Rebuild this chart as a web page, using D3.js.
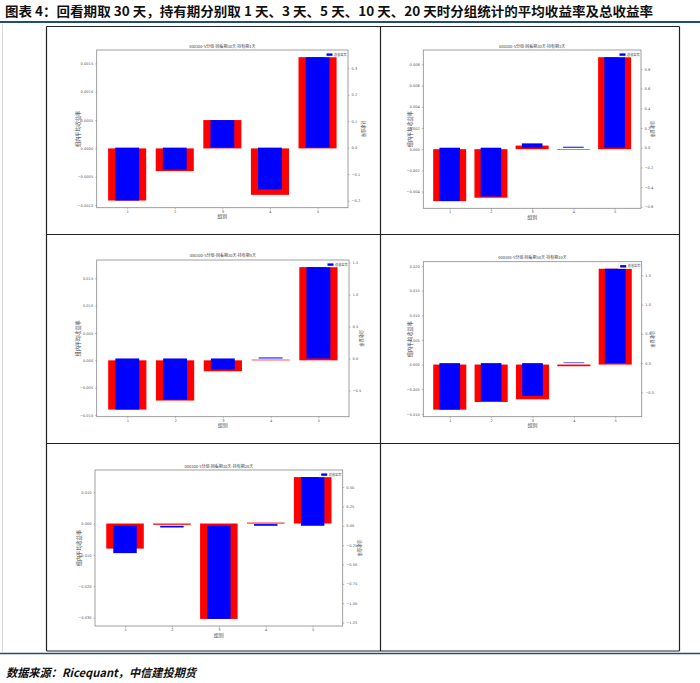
<!DOCTYPE html>
<html><head><meta charset="utf-8">
<script src="https://cdn.jsdelivr.net/npm/d3@7"></script>
<style>body{margin:0;background:#fff}svg{display:block}</style>
</head><body><svg id="c" width="700" height="683"></svg>
<script>
// ---------------- data ----------------
const groups = [1, 2, 3, 4, 5];
const holdingDays = [1, 3, 5, 10, 20];
const lookbackDays = 30;

const meanRet_1d  = [-0.00092, -0.00040, 0.00050, -0.00082, 0.00161];
const totalRet_1d = [-0.200, -0.083, 0.104, -0.158, 0.342];
const meanRet_3d  = [-0.00490, -0.00458, 0.00034, -0.00004, 0.00868];
const totalRet_3d = [-0.542, -0.495, 0.044, 0.010, 0.919];
const meanRet_5d  = [-0.00900, -0.00735, -0.00200, 0.00012, 0.01703];
const totalRet_5d = [-0.800, -0.645, -0.173, 0.016, 1.430];
const meanRet_10d  = [-0.00915, -0.00760, -0.00705, -0.00034, 0.01944];
const totalRet_10d = [-0.794, -0.646, -0.560, 0.011, 1.611];
const meanRet_20d  = [-0.00800, -0.00040, -0.03040, 0.00030, 0.01480];
const totalRet_20d = [-0.353, -0.022, -1.203, 0.022, 0.629];

const leftTicks_1d  = [-0.0010, -0.0005, 0.0000, 0.0005, 0.0010, 0.0015];
const rightTicks_1d = [-0.2, -0.1, 0.0, 0.1, 0.2, 0.3];
const leftTicks_3d  = [-0.004, -0.002, 0.000, 0.002, 0.004, 0.006, 0.008];
const rightTicks_3d = [-0.6, -0.4, -0.2, 0.0, 0.2, 0.4, 0.6, 0.8];
const leftTicks_5d  = [-0.010, -0.005, 0.000, 0.005, 0.010, 0.015];
const rightTicks_5d = [-0.5, 0.0, 0.5, 1.0, 1.5];
const leftTicks_10d  = [-0.010, -0.005, 0.000, 0.005, 0.010, 0.015, 0.020];
const rightTicks_10d = [-0.5, 0.0, 0.5, 1.0, 1.5];
const leftTicks_20d  = [-0.03, -0.02, -0.01, 0.00, 0.01];
const rightTicks_20d = [-1.25, -1.00, -0.75, -0.50, -0.25, 0.00, 0.25, 0.50];

const leftFormats  = [".4f", ".3f", ".3f", ".3f", ".3f"];
const rightFormats = [".1f", ".1f", ".1f", ".1f", ".2f"];

const chartTitle = "图表 4：回看期取 30 天，持有期分别取 1 天、3 天、5 天、10 天、20 天时分组统计的平均收益率及总收益率";
const sourceText = "数据来源：Ricequant，中信建投期货";
const xLabel = "组别";
const leftLabel = "组内平均收益率";
const rightLabel = "总收益率";
const legendLabel = "总收益率";

// ---------------- layout ----------------
const svg = d3.select("#c");
const W = 700, H = 683;

// faint page edges
svg.append("line").attr("x1", 2.5).attr("x2", 2.5).attr("y1", 24).attr("y2", 652)
  .attr("stroke", "#d8d8d8").attr("stroke-width", 1);

// page title
svg.append("text").attr("x", 5).attr("y", 15.5)
  .attr("font-family", "'Noto Sans CJK SC', sans-serif").attr("font-weight", 700)
  .attr("font-size", 13).attr("textLength", 648).attr("lengthAdjust", "spacingAndGlyphs")
  .attr("fill", "#111").text(chartTitle);

// blue rules
svg.append("line").attr("x1", 0).attr("x2", W).attr("y1", 22).attr("y2", 22)
  .attr("stroke", "#1f4e79").attr("stroke-width", 2);
svg.append("line").attr("x1", 0).attr("x2", W).attr("y1", 653.5).attr("y2", 653.5)
  .attr("stroke", "#1f4e79").attr("stroke-width", 1.6);

// table grid
const tbl = {l: 46.5, m: 380.5, r: 679.5, rows: [26.5, 234.5, 443.5, 651]};
const grid = svg.append("g").attr("stroke", "#222").attr("stroke-width", 1.2);
tbl.rows.forEach(y => grid.append("line").attr("x1", tbl.l).attr("x2", tbl.r).attr("y1", y).attr("y2", y));
[tbl.l, tbl.m, tbl.r].forEach(x => grid.append("line").attr("x1", x).attr("x2", x).attr("y1", tbl.rows[0]).attr("y2", tbl.rows[3]));

// footer
svg.append("text").attr("x", 6).attr("y", 677)
  .attr("font-family", "'Noto Sans CJK SC', sans-serif").attr("font-weight", 700)
  .attr("font-style", "italic").attr("font-size", 11.5).attr("textLength", 190).attr("lengthAdjust", "spacingAndGlyphs")
  .attr("fill", "#111").text(sourceText);

// panels
const panels = [
  {l: 96.7, r: 348, t: 50, b: 207.7, yl: 78.3, yr: 363.3, tt: 48},
  {l: 423.3, r: 641, t: 50, b: 208.3, yl: 410.7, yr: 652, tt: 48},
  {l: 96.7, r: 349, t: 260, b: 416.7, yl: 78.3, yr: 361, tt: 257},
  {l: 423.3, r: 641.7, t: 261.7, b: 416.7, yl: 410.7, yr: 652.5, tt: 258.7},
  {l: 95, r: 342.7, t: 470, b: 626, yl: 80, yr: 359, tt: 467.5}
];
const means  = [meanRet_1d, meanRet_3d, meanRet_5d, meanRet_10d, meanRet_20d];
const totals = [totalRet_1d, totalRet_3d, totalRet_5d, totalRet_10d, totalRet_20d];
const lTicks = [leftTicks_1d, leftTicks_3d, leftTicks_5d, leftTicks_10d, leftTicks_20d];
const rTicks = [rightTicks_1d, rightTicks_3d, rightTicks_5d, rightTicks_10d, rightTicks_20d];

function padDomain(vals) {
  const lo = Math.min(0, d3.min(vals)), hi = Math.max(0, d3.max(vals));
  const m = (hi - lo) * 0.05;
  return [lo - m, hi + m];
}

const tickFont = "'DejaVu Sans', sans-serif";
const cjkFont = "'Noto Sans CJK SC', sans-serif";

panels.forEach((p, k) => {
  const g = svg.append("g");
  const mean = means[k], total = totals[k];
  const x = d3.scaleLinear().domain([0.36, 5.64]).range([p.l, p.r]);
  const yL = d3.scaleLinear().domain(padDomain(mean)).range([p.b, p.t]);
  const yR = d3.scaleLinear().domain(padDomain(total)).range([p.b, p.t]);

  // red bars (mean return, left axis)
  g.append("g").selectAll("rect").data(groups).join("rect")
    .attr("x", d => x(d - 0.4)).attr("width", x(0.8) - x(0))
    .attr("y", (d, i) => Math.min(yL(mean[i]), yL(0)))
    .attr("height", (d, i) => Math.max(0.6, Math.abs(yL(mean[i]) - yL(0))))
    .attr("fill", "#ff0000");
  // blue bars (total return, right axis)
  g.append("g").selectAll("rect").data(groups).join("rect")
    .attr("x", d => x(d - 0.25)).attr("width", x(0.5) - x(0))
    .attr("y", (d, i) => Math.min(yR(total[i]), yR(0)))
    .attr("height", (d, i) => Math.max(0.6, Math.abs(yR(total[i]) - yR(0))))
    .attr("fill", "#0000ff");

  // frame
  g.append("rect").attr("x", p.l).attr("y", p.t).attr("width", p.r - p.l).attr("height", p.b - p.t)
    .attr("fill", "none").attr("stroke", "#888").attr("stroke-width", 0.8);

  const styleAxis = (sel) => {
    sel.select(".domain").remove();
    sel.selectAll(".tick line").attr("stroke", "#777").attr("stroke-width", 0.5);
    sel.selectAll(".tick text").attr("font-family", tickFont).attr("font-size", 3.6).attr("fill", "#555");
  };
  // bottom axis
  g.append("g").attr("transform", `translate(0,${p.b})`)
    .call(d3.axisBottom(x).tickValues(groups).tickSize(1.5).tickPadding(0.8).tickFormat(d3.format("d")))
    .call(styleAxis);
  // left axis
  g.append("g").attr("transform", `translate(${p.l},0)`)
    .call(d3.axisLeft(yL).tickValues(lTicks[k]).tickSize(1.5).tickPadding(2).tickFormat(d3.format(leftFormats[k])))
    .call(styleAxis);
  // right axis
  g.append("g").attr("transform", `translate(${p.r},0)`)
    .call(d3.axisRight(yR).tickValues(rTicks[k]).tickSize(1.5).tickPadding(2).tickFormat(d3.format(rightFormats[k])))
    .call(styleAxis);

  // title
  g.append("text").attr("x", (p.l + p.r) / 2).attr("y", p.tt).attr("text-anchor", "middle")
    .attr("font-family", cjkFont).attr("font-size", 4).attr("fill", "#444")
    .text(`000300-5分组-回看期${lookbackDays}天-持有期${holdingDays[k]}天`);
  // x label
  g.append("text").attr("x", (p.l + p.r) / 2).attr("y", p.b + 10.5).attr("text-anchor", "middle")
    .attr("font-family", cjkFont).attr("font-size", 5).attr("fill", "#444")
    .text(xLabel);
  // y labels
  g.append("text").attr("transform", `translate(${p.yl},${(p.t + p.b) / 2}) rotate(-90)`)
    .attr("text-anchor", "middle").attr("dominant-baseline", "middle")
    .attr("font-family", cjkFont).attr("font-size", 5.2).attr("fill", "#444").text(leftLabel);
  g.append("text").attr("transform", `translate(${p.yr},${(p.t + p.b) / 2}) rotate(90)`)
    .attr("text-anchor", "middle").attr("dominant-baseline", "middle")
    .attr("font-family", cjkFont).attr("font-size", 4.2).attr("fill", "#555").text(rightLabel);

  // legend
  const lg = g.append("g").attr("transform", `translate(${p.r - 23},${p.t + 2})`);
  lg.append("rect").attr("x", 0).attr("y", 0).attr("width", 21.5).attr("height", 5)
    .attr("fill", "#fff").attr("fill-opacity", 0.8).attr("stroke", "#ddd").attr("stroke-width", 0.3);
  lg.append("rect").attr("x", 1.5).attr("y", 1.4).attr("width", 6).attr("height", 2.4).attr("fill", "#0000ff");
  lg.append("text").attr("x", 9).attr("y", 2.7).attr("dominant-baseline", "middle")
    .attr("font-family", cjkFont).attr("font-size", 3.2).attr("fill", "#444").text(legendLabel);
});
</script>
</body></html>
